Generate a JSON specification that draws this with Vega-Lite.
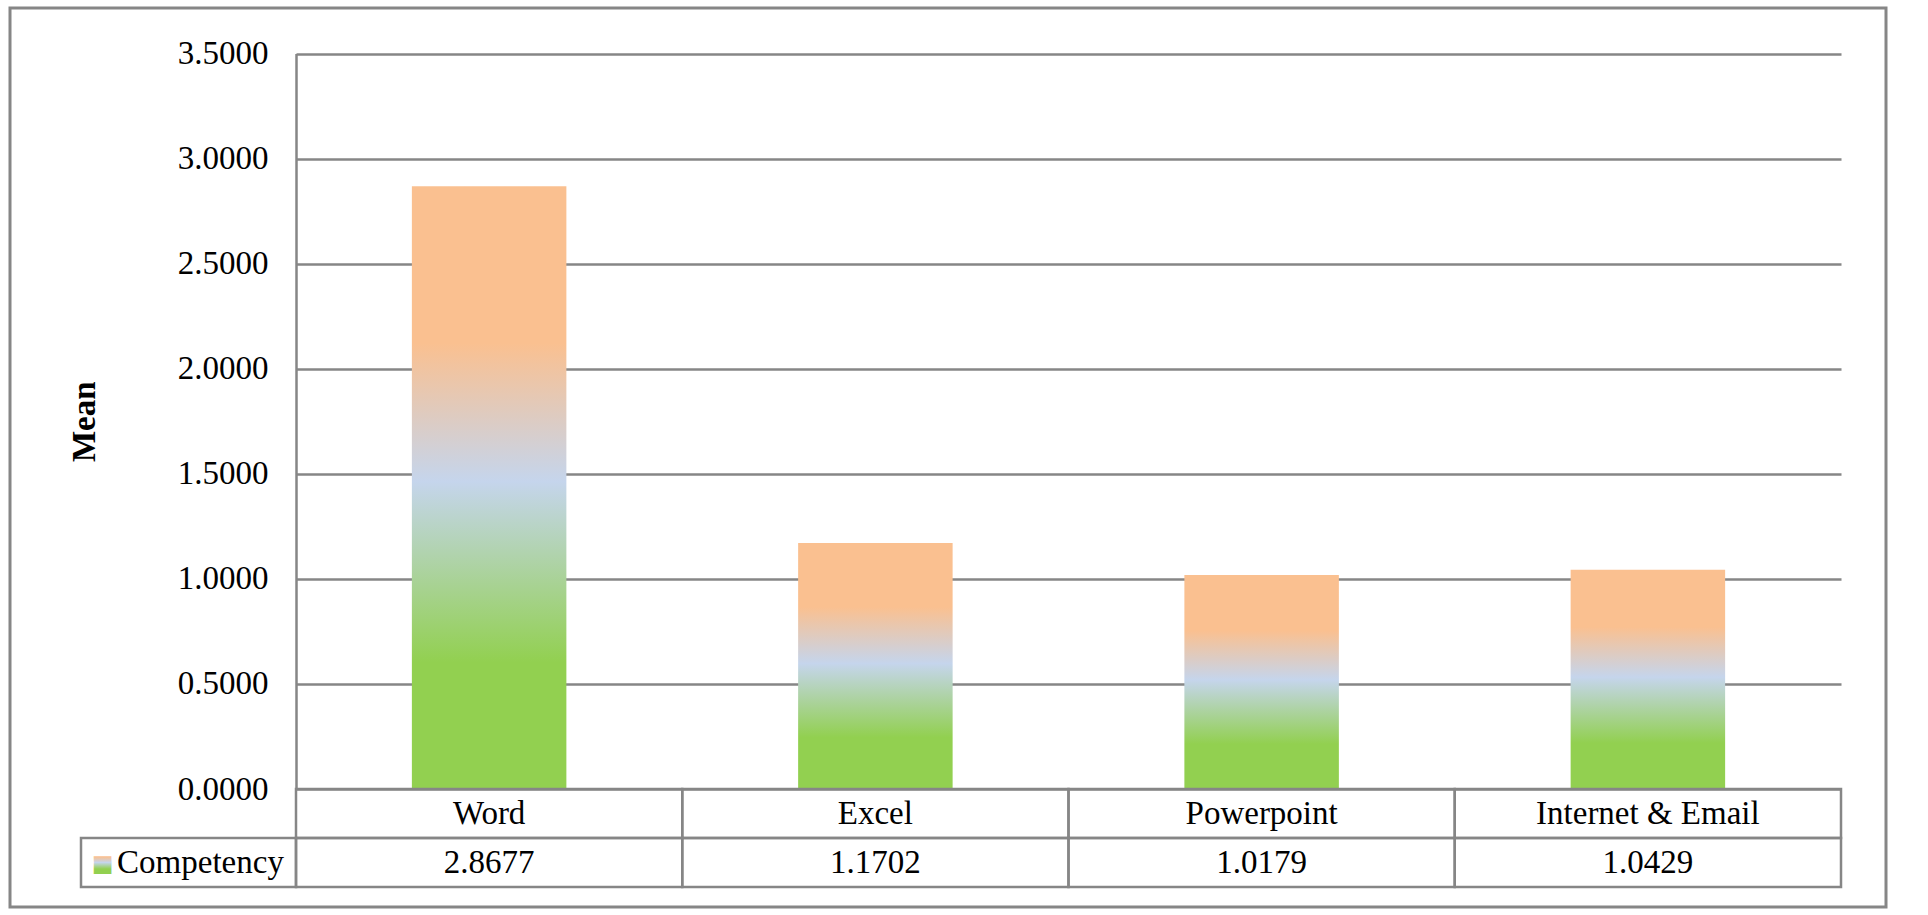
{
  "$schema": "https://vega.github.io/schema/vega-lite/v6.json",
  "width": 1876,
  "height": 899,
  "autosize": {"type": "none"},
  "padding": {"left": 10, "top": 8, "right": 42, "bottom": 8},
  "background": "white",
  "config": {
    "view": {"stroke": "#868686", "strokeWidth": 3},
    "font": "Liberation Serif",
    "text": {"font": "Liberation Serif", "fontSize": 33, "color": "black"}
  },
  "data": {
    "values": [
      {"category": "Word", "series": "Competency", "value": 2.8677},
      {"category": "Excel", "series": "Competency", "value": 1.1702},
      {"category": "Powerpoint", "series": "Competency", "value": 1.0179},
      {"category": "Internet & Email", "series": "Competency", "value": 1.0429}
    ]
  },
  "resolve": {"scale": {"x": "independent", "y": "independent"}},
  "layer": [
    {
      "mark": {
        "type": "bar",
        "color": {
          "gradient": "linear",
          "x1": 0, "y1": 1, "x2": 0, "y2": 0,
          "stops": [
            {"offset": 0, "color": "#92D050"},
            {"offset": 0.21, "color": "#92D050"},
            {"offset": 0.51, "color": "#C5D5EC"},
            {"offset": 0.74, "color": "#FAC090"},
            {"offset": 1, "color": "#FAC090"}
          ]
        }
      },
      "encoding": {
        "x": {
          "field": "category", "type": "nominal", "sort": null,
          "scale": {"range": [286, 1831], "paddingInner": 0.6, "paddingOuter": 0.3},
          "axis": null
        },
        "y": {
          "field": "value", "type": "quantitative",
          "scale": {"domain": [0, 3.5], "range": [781, 45.5], "nice": false, "zero": true},
          "axis": {
            "values": [0, 0.5, 1, 1.5, 2, 2.5, 3, 3.5],
            "format": ".4f",
            "offset": -286,
            "grid": true,
            "gridColor": "#868686",
            "gridWidth": 2.5,
            "gridOpacity": 1,
            "domain": true,
            "domainColor": "#868686",
            "domainWidth": 2.5,
            "ticks": false,
            "labelPadding": 28,
            "labelFont": "Liberation Serif",
            "labelFontSize": 33,
            "labelColor": "black",
            "title": "Mean",
            "titleFont": "Liberation Serif",
            "titleFontSize": 33,
            "titleFontWeight": "bold",
            "titleColor": "black",
            "titlePadding": 76
          }
        }
      }
    },
    {
      "mark": {"type": "rect", "fill": null, "stroke": "#868686", "strokeWidth": 2.5},
      "encoding": {
        "x": {"field": "category", "type": "nominal", "sort": null,
              "scale": {"range": [286, 1831], "paddingInner": 0, "paddingOuter": 0}, "axis": null},
        "y": {"datum": "name", "type": "nominal",
              "scale": {"domain": ["name", "value"], "range": [781, 879], "paddingInner": 0, "paddingOuter": 0}, "axis": null}
      }
    },
    {
      "mark": {"type": "rect", "fill": null, "stroke": "#868686", "strokeWidth": 2.5},
      "encoding": {
        "x": {"field": "category", "type": "nominal", "sort": null,
              "scale": {"range": [286, 1831], "paddingInner": 0, "paddingOuter": 0}, "axis": null},
        "y": {"datum": "value", "type": "nominal",
              "scale": {"domain": ["name", "value"], "range": [781, 879], "paddingInner": 0, "paddingOuter": 0}, "axis": null}
      }
    },
    {
      "mark": {"type": "text", "align": "center", "baseline": "middle"},
      "encoding": {
        "x": {"field": "category", "type": "nominal", "sort": null,
              "scale": {"range": [286, 1831], "paddingInner": 0, "paddingOuter": 0}, "axis": null},
        "y": {"datum": "name", "type": "nominal",
              "scale": {"domain": ["name", "value"], "range": [781, 879], "paddingInner": 0, "paddingOuter": 0}, "axis": null},
        "text": {"field": "category", "type": "nominal"}
      }
    },
    {
      "mark": {"type": "text", "align": "center", "baseline": "middle"},
      "encoding": {
        "x": {"field": "category", "type": "nominal", "sort": null,
              "scale": {"range": [286, 1831], "paddingInner": 0, "paddingOuter": 0}, "axis": null},
        "y": {"datum": "value", "type": "nominal",
              "scale": {"domain": ["name", "value"], "range": [781, 879], "paddingInner": 0, "paddingOuter": 0}, "axis": null},
        "text": {"field": "value", "type": "quantitative", "format": ".4f"}
      }
    },
    {
      "transform": [{"aggregate": [{"op": "count", "as": "n"}], "groupby": ["series"]}],
      "mark": {"type": "rect", "fill": null, "stroke": "#868686", "strokeWidth": 2.5},
      "encoding": {
        "x": {"field": "series", "type": "nominal",
              "scale": {"range": [71, 286], "paddingInner": 0, "paddingOuter": 0}, "axis": null},
        "y": {"datum": "value", "type": "nominal",
              "scale": {"domain": ["name", "value"], "range": [781, 879], "paddingInner": 0, "paddingOuter": 0}, "axis": null}
      }
    },
    {
      "transform": [{"aggregate": [{"op": "count", "as": "n"}], "groupby": ["series"]}],
      "mark": {"type": "text", "align": "center", "baseline": "middle", "dx": 12},
      "encoding": {
        "x": {"field": "series", "type": "nominal",
              "scale": {"range": [71, 286], "paddingInner": 0, "paddingOuter": 0}, "axis": null},
        "y": {"datum": "value", "type": "nominal",
              "scale": {"domain": ["name", "value"], "range": [781, 879], "paddingInner": 0, "paddingOuter": 0}, "axis": null},
        "text": {"field": "series", "type": "nominal"}
      }
    },
    {
      "transform": [{"aggregate": [{"op": "count", "as": "n"}], "groupby": ["series"]}],
      "mark": {
        "type": "text", "text": "■", "dx": -86, "dy": 1, "font": "DejaVu Sans", "fontSize": 23, "baseline": "middle", "align": "center",
        "fill": {
          "gradient": "linear",
          "x1": 0, "y1": 1, "x2": 0, "y2": 0,
          "stops": [
            {"offset": 0, "color": "#92D050"},
            {"offset": 0.25, "color": "#92D050"},
            {"offset": 0.5, "color": "#C5D5EC"},
            {"offset": 0.72, "color": "#FAC090"},
            {"offset": 1, "color": "#FAC090"}
          ]
        }
      },
      "encoding": {
        "x": {"field": "series", "type": "nominal",
              "scale": {"range": [71, 286], "paddingInner": 0, "paddingOuter": 0}, "axis": null},
        "y": {"datum": "value", "type": "nominal",
              "scale": {"domain": ["name", "value"], "range": [781, 879], "paddingInner": 0, "paddingOuter": 0}, "axis": null}
      }
    }
  ]
}
